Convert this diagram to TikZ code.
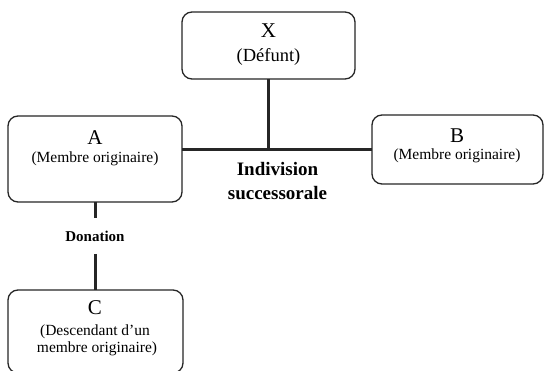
\documentclass[tikz,border=0pt]{standalone}
\usepackage{fontspec}
\setmainfont{Liberation Serif}
\begin{document}
\begin{tikzpicture}[x=1pt,y=-1pt,
  box/.style={draw=black!85,line width=1.3pt,rounded corners=10pt,fill=white},
  conn/.style={draw=black!85,line width=3pt},
  big/.style={anchor=base,inner sep=0pt,font=\fontsize{21}{24}\selectfont},
  small/.style={anchor=base,inner sep=0pt,font=\fontsize{15.5}{18}\selectfont},
  lab/.style={anchor=base,inner sep=0pt,font=\bfseries\fontsize{19}{22}\selectfont}]
\useasboundingbox (0,0) rectangle (544,371);
% boxes
\path[box] (182,12) rectangle (355,79);
\coordinate (Xs) at (268.5,79);
\path[box] (8,116) rectangle (182,202);
\coordinate (Ae) at (182,150);
\coordinate (As) at (95,202);
\path[box] (372,115) rectangle (543,184);
\coordinate (Bw) at (372,150);
\path[box] (8,290) rectangle (183,373);
\coordinate (Cn) at (95,290);
\coordinate (J) at (268.5,150);
% texts
\node[big] (xl) at (268.5,38) {X};
\node[anchor=base,inner sep=0pt,font=\fontsize{18.5}{22}\selectfont] (xd) at (268.5,62) {(Défunt)};
\node[big] (al) at (95,145) {A};
\node[small] (ad) at (95,163) {(Membre originaire)};
\node[big] (bl) at (457,143) {B};
\node[small] (bd) at (457,160) {(Membre originaire)};
\node[big] (cl) at (95,315) {C};
\node[small] (cd1) at (95,336) {(Descendant d’un};
\node[small] (cd2) at (97,353) {membre originaire)};
\node[lab] (ind1) at (277.5,176) {Indivision};
\node[lab] (ind2) at (277.5,200) {successorale};
\node[anchor=base,inner sep=0pt,font=\bfseries\fontsize{15}{18}\selectfont] (don) at (95,242) {Donation};
\coordinate (d1) at (95,218);
\coordinate (d2) at (95,254);
% connectors
\draw[conn] (Xs) -- (J);
\draw[conn] (Ae) -- (Bw);
\draw[conn] (As) -- (d1);
\draw[conn] (d2) -- (Cn);
\end{tikzpicture}
\end{document}
